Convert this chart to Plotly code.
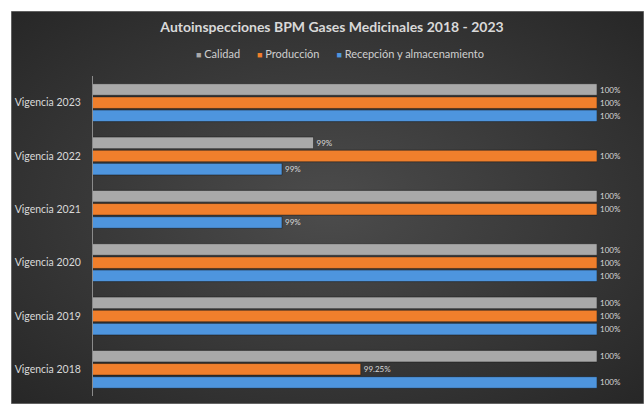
import urllib.parse
import plotly.graph_objects as go

# --- data -------------------------------------------------------------
categories = ["Vigencia 2018", "Vigencia 2019", "Vigencia 2020",
              "Vigencia 2021", "Vigencia 2022", "Vigencia 2023"]

calidad = [100, 100, 100, 100, 99.1, 100]
produccion = [99.25, 100, 100, 100, 100, 100]
recepcion = [100, 100, 100, 99, 99, 100]

# decimals shown in each data label
calidad_dec = [0, 0, 0, 0, 0, 0]
produccion_dec = [2, 0, 0, 0, 0, 0]
recepcion_dec = [0, 0, 0, 0, 0, 0]

series_names = ["Calidad", "Producción", "Recepción y almacenamiento"]
title_text = "Autoinspecciones BPM Gases Medicinales 2018 - 2023"

# --- styling ----------------------------------------------------------
W, H = 644, 404
L, R, T, B = 93, 47, 76, 8          # plot area 93..597 x 76..396
FONT = "Lato"
TXT = "#d9d9d9"

colors = {"Calidad": "#a9a9a9",
          "Producción": "#f07f2c",
          "Recepción y almacenamiento": "#4e95de"}


def templates(dec):
    return ["%{x:." + str(d) + "f}%" for d in dec]


fig = go.Figure()
# horizontal grouped bars stack bottom-up, so add the last series first
for name, vals, dec in [(series_names[2], recepcion, recepcion_dec),
                        (series_names[1], produccion, produccion_dec),
                        (series_names[0], calidad, calidad_dec)]:
    fig.add_trace(go.Bar(
        name=name, y=categories, x=vals, orientation="h",
        marker=dict(color=colors[name],
                    line=dict(color="rgba(20,20,20,0.6)", width=0.8)),
        texttemplate=templates(dec), textposition="outside",
        textfont=dict(family=FONT, size=8, color=TXT),
        constraintext="none", cliponaxis=False,
        hoverinfo="skip", showlegend=False,
    ))

# radial dark background of the chart area
svg = (
    "<svg xmlns='http://www.w3.org/2000/svg' width='633' height='393' "
    "preserveAspectRatio='none' viewBox='0 0 633 393'>"
    "<defs><radialGradient id='g' cx='50%' cy='50%' r='70%'>"
    "<stop offset='0%' stop-color='#4c4c4c'/>"
    "<stop offset='100%' stop-color='#272727'/>"
    "</radialGradient></defs>"
    "<rect width='633' height='393' fill='url(#g)' stroke='#9a9a9a' stroke-width='1'/>"
    "</svg>"
)
src = "data:image/svg+xml;charset=utf-8," + urllib.parse.quote(svg)

pw, ph = W - L - R, H - T - B
x0_px, y0_px = 11, 11
fig.add_layout_image(dict(
    source=src, xref="paper", yref="paper",
    x=(x0_px - L) / pw, y=(H - B - y0_px) / ph,
    sizex=(W - x0_px) / pw, sizey=(H - y0_px) / ph,
    xanchor="left", yanchor="top", sizing="stretch", layer="below",
))

# compact legend row: coloured square + series name
gap = "&nbsp;" * 6
legend_text = gap.join(
    f"<span style='color:{colors[n]};font-size:9px'>■</span> {n}"
    for n in series_names)
fig.add_annotation(
    text=legend_text, xref="paper", yref="paper",
    x=(340 - L) / pw, y=(H - B - 53) / ph, xanchor="center", yanchor="middle",
    showarrow=False, font=dict(family=FONT, size=11, color="#cfcfcf"),
)

fig.update_layout(
    width=W, height=H,
    margin=dict(l=L, r=R, t=T, b=B, pad=0),
    paper_bgcolor="white", plot_bgcolor="rgba(0,0,0,0)",
    barmode="group", bargap=0.26, bargroupgap=0.12,
    title=dict(text="<b>" + title_text + "</b>", x=332 / W, xanchor="center",
               y=1 - 27 / H, yanchor="middle", yref="container",
               font=dict(family=FONT, size=14, color=TXT)),
    xaxis=dict(range=[98.4, 100], showticklabels=False, showgrid=False,
               zeroline=False, showline=False, fixedrange=True),
    yaxis=dict(showline=True, linecolor="#8a8a8a", linewidth=1,
               ticks="", ticklabelstandoff=9,
               tickfont=dict(family=FONT, size=10.5, color=TXT),
               showgrid=False, zeroline=False),
)

fig.write_html("out.html")
